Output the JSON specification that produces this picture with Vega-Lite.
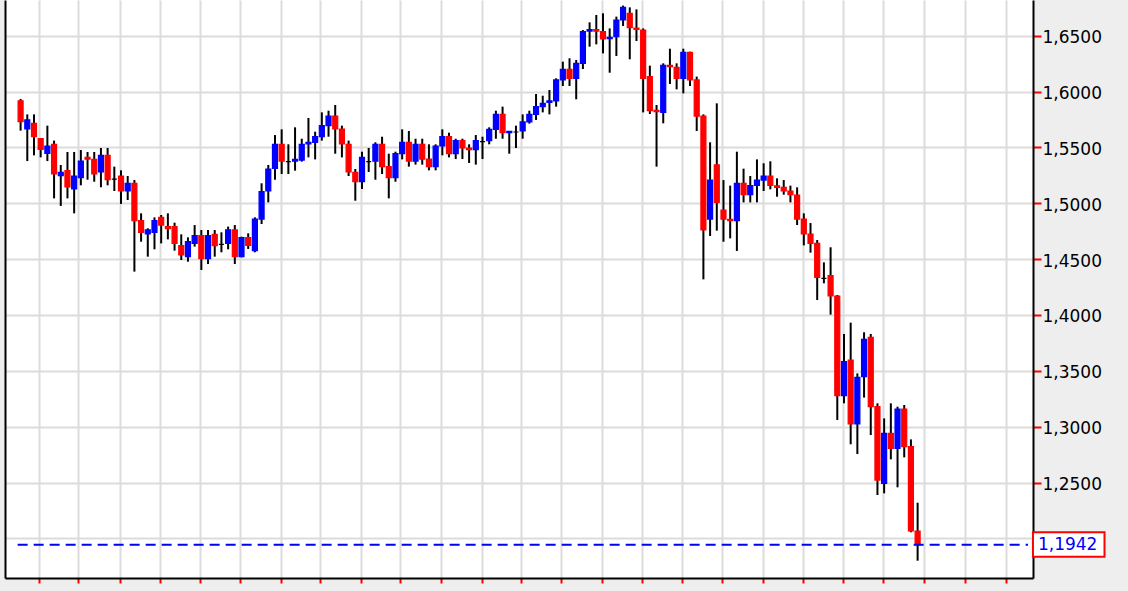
{
  "$schema": "https://vega.github.io/schema/vega-lite/v6.json",
  "width": 1028,
  "height": 578,
  "autosize": {"type": "none"},
  "padding": {"left": 5, "top": 0, "right": 95, "bottom": 13},
  "background": "#eeeeee",
  "config": {
    "view": {"fill": "#ffffff", "stroke": null},
    "locale": {"number": {"decimal": ",", "thousands": ".", "grouping": [3], "currency": ["", " €"]}}
  },
  "datasets": {
    "candles": [
      {"i":0,"open":1.5916,"high":1.5934,"low":1.5650,"close":1.5731},
      {"i":1,"open":1.5665,"high":1.5796,"low":1.5378,"close":1.5746},
      {"i":2,"open":1.5716,"high":1.5796,"low":1.5429,"close":1.5596},
      {"i":3,"open":1.5578,"high":1.5580,"low":1.5411,"close":1.5483},
      {"i":4,"open":1.5447,"high":1.5695,"low":1.5378,"close":1.5513},
      {"i":5,"open":1.5528,"high":1.5561,"low":1.5044,"close":1.5262},
      {"i":6,"open":1.5247,"high":1.5343,"low":1.4976,"close":1.5277},
      {"i":7,"open":1.5292,"high":1.5459,"low":1.5044,"close":1.5146},
      {"i":8,"open":1.5128,"high":1.5459,"low":1.4910,"close":1.5244},
      {"i":9,"open":1.5229,"high":1.5477,"low":1.5161,"close":1.5378},
      {"i":10,"open":1.5411,"high":1.5459,"low":1.5211,"close":1.5396},
      {"i":11,"open":1.5393,"high":1.5459,"low":1.5193,"close":1.5262},
      {"i":12,"open":1.5280,"high":1.5495,"low":1.5143,"close":1.5429},
      {"i":13,"open":1.5429,"high":1.5495,"low":1.5161,"close":1.5211},
      {"i":14,"open":1.5217,"high":1.5328,"low":1.5110,"close":1.5217},
      {"i":15,"open":1.5244,"high":1.5295,"low":1.4994,"close":1.5110},
      {"i":16,"open":1.5110,"high":1.5244,"low":1.5029,"close":1.5179},
      {"i":17,"open":1.5179,"high":1.5208,"low":1.4388,"close":1.4844},
      {"i":18,"open":1.4844,"high":1.4910,"low":1.4656,"close":1.4740},
      {"i":19,"open":1.4725,"high":1.4776,"low":1.4522,"close":1.4761},
      {"i":20,"open":1.4740,"high":1.4874,"low":1.4588,"close":1.4844},
      {"i":21,"open":1.4874,"high":1.4895,"low":1.4641,"close":1.4805},
      {"i":22,"open":1.4791,"high":1.4910,"low":1.4677,"close":1.4773},
      {"i":23,"open":1.4791,"high":1.4826,"low":1.4576,"close":1.4641},
      {"i":24,"open":1.4620,"high":1.4722,"low":1.4492,"close":1.4537},
      {"i":25,"open":1.4522,"high":1.4695,"low":1.4477,"close":1.4656},
      {"i":26,"open":1.4641,"high":1.4805,"low":1.4612,"close":1.4710},
      {"i":27,"open":1.4710,"high":1.4761,"low":1.4403,"close":1.4504},
      {"i":28,"open":1.4504,"high":1.4761,"low":1.4456,"close":1.4710},
      {"i":29,"open":1.4722,"high":1.4761,"low":1.4522,"close":1.4620},
      {"i":30,"open":1.4632,"high":1.4740,"low":1.4561,"close":1.4632},
      {"i":31,"open":1.4641,"high":1.4791,"low":1.4588,"close":1.4761},
      {"i":32,"open":1.4761,"high":1.4805,"low":1.4456,"close":1.4522},
      {"i":33,"open":1.4522,"high":1.4701,"low":1.4516,"close":1.4692},
      {"i":34,"open":1.4692,"high":1.4731,"low":1.4591,"close":1.4623},
      {"i":35,"open":1.4576,"high":1.4874,"low":1.4561,"close":1.4859},
      {"i":36,"open":1.4859,"high":1.5179,"low":1.4814,"close":1.5104},
      {"i":37,"open":1.5110,"high":1.5343,"low":1.5008,"close":1.5307},
      {"i":38,"open":1.5313,"high":1.5611,"low":1.5211,"close":1.5528},
      {"i":39,"open":1.5528,"high":1.5662,"low":1.5262,"close":1.5378},
      {"i":40,"open":1.5373,"high":1.5528,"low":1.5262,"close":1.5373},
      {"i":41,"open":1.5378,"high":1.5680,"low":1.5292,"close":1.5393},
      {"i":42,"open":1.5387,"high":1.5578,"low":1.5373,"close":1.5528},
      {"i":43,"open":1.5531,"high":1.5764,"low":1.5411,"close":1.5546},
      {"i":44,"open":1.5546,"high":1.5641,"low":1.5393,"close":1.5596},
      {"i":45,"open":1.5596,"high":1.5814,"low":1.5561,"close":1.5695},
      {"i":46,"open":1.5695,"high":1.5829,"low":1.5596,"close":1.5781},
      {"i":47,"open":1.5781,"high":1.5880,"low":1.5444,"close":1.5665},
      {"i":48,"open":1.5665,"high":1.5695,"low":1.5411,"close":1.5531},
      {"i":49,"open":1.5528,"high":1.5561,"low":1.5244,"close":1.5280},
      {"i":50,"open":1.5277,"high":1.5307,"low":1.5023,"close":1.5193},
      {"i":51,"open":1.5193,"high":1.5462,"low":1.5128,"close":1.5411},
      {"i":52,"open":1.5373,"high":1.5495,"low":1.5280,"close":1.5373},
      {"i":53,"open":1.5378,"high":1.5546,"low":1.5211,"close":1.5528},
      {"i":54,"open":1.5528,"high":1.5596,"low":1.5262,"close":1.5328},
      {"i":55,"open":1.5328,"high":1.5444,"low":1.5044,"close":1.5229},
      {"i":56,"open":1.5229,"high":1.5462,"low":1.5193,"close":1.5444},
      {"i":57,"open":1.5444,"high":1.5662,"low":1.5393,"close":1.5546},
      {"i":58,"open":1.5546,"high":1.5647,"low":1.5328,"close":1.5378},
      {"i":59,"open":1.5378,"high":1.5578,"low":1.5346,"close":1.5528},
      {"i":60,"open":1.5528,"high":1.5578,"low":1.5346,"close":1.5396},
      {"i":61,"open":1.5396,"high":1.5528,"low":1.5295,"close":1.5328},
      {"i":62,"open":1.5328,"high":1.5528,"low":1.5295,"close":1.5513},
      {"i":63,"open":1.5513,"high":1.5662,"low":1.5429,"close":1.5596},
      {"i":64,"open":1.5596,"high":1.5632,"low":1.5411,"close":1.5444},
      {"i":65,"open":1.5444,"high":1.5578,"low":1.5396,"close":1.5561},
      {"i":66,"open":1.5561,"high":1.5578,"low":1.5396,"close":1.5495},
      {"i":67,"open":1.5495,"high":1.5528,"low":1.5361,"close":1.5480},
      {"i":68,"open":1.5480,"high":1.5611,"low":1.5346,"close":1.5561},
      {"i":69,"open":1.5552,"high":1.5596,"low":1.5396,"close":1.5552},
      {"i":70,"open":1.5561,"high":1.5680,"low":1.5528,"close":1.5662},
      {"i":71,"open":1.5662,"high":1.5829,"low":1.5578,"close":1.5796},
      {"i":72,"open":1.5796,"high":1.5865,"low":1.5578,"close":1.5632},
      {"i":73,"open":1.5632,"high":1.5647,"low":1.5444,"close":1.5644},
      {"i":74,"open":1.5638,"high":1.5695,"low":1.5495,"close":1.5638},
      {"i":75,"open":1.5647,"high":1.5796,"low":1.5578,"close":1.5728},
      {"i":76,"open":1.5728,"high":1.5829,"low":1.5713,"close":1.5796},
      {"i":77,"open":1.5796,"high":1.5978,"low":1.5746,"close":1.5865},
      {"i":78,"open":1.5865,"high":1.5963,"low":1.5814,"close":1.5895},
      {"i":79,"open":1.5904,"high":1.6014,"low":1.5796,"close":1.5916},
      {"i":80,"open":1.5916,"high":1.6119,"low":1.5865,"close":1.6104},
      {"i":81,"open":1.6104,"high":1.6268,"low":1.6050,"close":1.6199},
      {"i":82,"open":1.6199,"high":1.6298,"low":1.6050,"close":1.6119},
      {"i":83,"open":1.6119,"high":1.6283,"low":1.5931,"close":1.6253},
      {"i":84,"open":1.6253,"high":1.6551,"low":1.6202,"close":1.6537},
      {"i":85,"open":1.6542,"high":1.6620,"low":1.6402,"close":1.6554},
      {"i":86,"open":1.6554,"high":1.6686,"low":1.6423,"close":1.6542},
      {"i":87,"open":1.6537,"high":1.6701,"low":1.6342,"close":1.6471},
      {"i":88,"open":1.6474,"high":1.6566,"low":1.6169,"close":1.6486},
      {"i":89,"open":1.6492,"high":1.6671,"low":1.6319,"close":1.6641},
      {"i":90,"open":1.6641,"high":1.6770,"low":1.6587,"close":1.6754},
      {"i":91,"open":1.6701,"high":1.6754,"low":1.6289,"close":1.6572},
      {"i":92,"open":1.6569,"high":1.6736,"low":1.6453,"close":1.6557},
      {"i":93,"open":1.6551,"high":1.6566,"low":1.5814,"close":1.6119},
      {"i":94,"open":1.6134,"high":1.6232,"low":1.5799,"close":1.5829},
      {"i":95,"open":1.5832,"high":1.5880,"low":1.5328,"close":1.5820},
      {"i":96,"open":1.5814,"high":1.6253,"low":1.5716,"close":1.6235},
      {"i":97,"open":1.6235,"high":1.6384,"low":1.6068,"close":1.6223},
      {"i":98,"open":1.6217,"high":1.6253,"low":1.6020,"close":1.6119},
      {"i":99,"open":1.6119,"high":1.6384,"low":1.5984,"close":1.6351},
      {"i":100,"open":1.6351,"high":1.6357,"low":1.6050,"close":1.6104},
      {"i":101,"open":1.6104,"high":1.6134,"low":1.5647,"close":1.5781},
      {"i":102,"open":1.5781,"high":1.5796,"low":1.4319,"close":1.4761},
      {"i":103,"open":1.4859,"high":1.5546,"low":1.4707,"close":1.5208},
      {"i":104,"open":1.5343,"high":1.5895,"low":1.4755,"close":1.5008},
      {"i":105,"open":1.4940,"high":1.5208,"low":1.4656,"close":1.4859},
      {"i":106,"open":1.4856,"high":1.5158,"low":1.4686,"close":1.4844},
      {"i":107,"open":1.4844,"high":1.5462,"low":1.4573,"close":1.5179},
      {"i":108,"open":1.5179,"high":1.5310,"low":1.5008,"close":1.5077},
      {"i":109,"open":1.5077,"high":1.5244,"low":1.5008,"close":1.5158},
      {"i":110,"open":1.5161,"high":1.5393,"low":1.5008,"close":1.5208},
      {"i":111,"open":1.5208,"high":1.5358,"low":1.5110,"close":1.5244},
      {"i":112,"open":1.5244,"high":1.5376,"low":1.5125,"close":1.5161},
      {"i":113,"open":1.5155,"high":1.5223,"low":1.5059,"close":1.5143},
      {"i":114,"open":1.5143,"high":1.5208,"low":1.5077,"close":1.5110},
      {"i":115,"open":1.5110,"high":1.5158,"low":1.5008,"close":1.5077},
      {"i":116,"open":1.5074,"high":1.5143,"low":1.4805,"close":1.4859},
      {"i":117,"open":1.4859,"high":1.4910,"low":1.4623,"close":1.4725},
      {"i":118,"open":1.4725,"high":1.4823,"low":1.4558,"close":1.4641},
      {"i":119,"open":1.4641,"high":1.4671,"low":1.4134,"close":1.4337},
      {"i":120,"open":1.4328,"high":1.4471,"low":1.4283,"close":1.4328},
      {"i":121,"open":1.4352,"high":1.4606,"low":1.4003,"close":1.4170},
      {"i":122,"open":1.4170,"high":1.4179,"low":1.3060,"close":1.3277},
      {"i":123,"open":1.3277,"high":1.3830,"low":1.3209,"close":1.3582},
      {"i":124,"open":1.3597,"high":1.3931,"low":1.2842,"close":1.3024},
      {"i":125,"open":1.3024,"high":1.3477,"low":1.2755,"close":1.3442},
      {"i":126,"open":1.3448,"high":1.3845,"low":1.3260,"close":1.3782},
      {"i":127,"open":1.3800,"high":1.3830,"low":1.2925,"close":1.3179},
      {"i":128,"open":1.3179,"high":1.3209,"low":1.2388,"close":1.2522},
      {"i":129,"open":1.2493,"high":1.3074,"low":1.2403,"close":1.2940},
      {"i":130,"open":1.2940,"high":1.3209,"low":1.2707,"close":1.2806},
      {"i":131,"open":1.2806,"high":1.3179,"low":1.2457,"close":1.3158},
      {"i":132,"open":1.3158,"high":1.3194,"low":1.2725,"close":1.2821},
      {"i":133,"open":1.2821,"high":1.2886,"low":1.2054,"close":1.2066},
      {"i":134,"open":1.2066,"high":1.2319,"low":1.1800,"close":1.1942}
    ],
    "last": [{"price": 1.1942}]
  },
  "layer": [
    {
      "data": {"name": "candles"},
      "mark": {"type": "rule", "color": "#000000", "strokeWidth": 2},
      "encoding": {
        "x": {
          "field": "i", "type": "quantitative",
          "scale": {"domain": [-1.583, 150.49], "nice": false, "zero": false},
          "axis": {
            "orient": "bottom", "title": null, "labels": false,
            "values": [2.75, 8.62, 14.79, 20.86, 26.78, 32.84, 38.85, 44.76, 50.83, 56.75, 62.77, 68.94, 74.75, 80.77, 86.92, 92.84, 98.86, 104.78, 110.84, 116.91, 122.78, 128.85, 135.0, 141.07, 147.19],
            "grid": true, "gridColor": "#dcdcdc", "gridWidth": 2,
            "domainColor": "#000000", "domainWidth": 2,
            "tickColor": "#ff0000", "tickSize": 5, "tickWidth": 2
          }
        },
        "y": {
          "field": "low", "type": "quantitative",
          "scale": {"domain": [1.1645, 1.682], "nice": false, "zero": false},
          "axis": {
            "orient": "right", "title": null, "format": ".4f",
            "values": [1.2, 1.25, 1.3, 1.35, 1.4, 1.45, 1.5, 1.55, 1.6, 1.65],
            "grid": true, "gridColor": "#dcdcdc", "gridWidth": 2,
            "domainColor": "#000000", "domainWidth": 2,
            "tickColor": "#ff0000", "tickSize": 8, "tickWidth": 2,
            "labelFont": "DejaVu Sans", "labelFontSize": 17, "labelColor": "#000000",
            "labelPadding": 1, "labelOffset": 2, "labelOverlap": false, "labelFlush": false
          }
        },
        "y2": {"field": "high"}
      }
    },
    {
      "data": {"name": "candles"},
      "mark": {"type": "bar", "size": 5, "strokeWidth": 1.2},
      "encoding": {
        "x": {"field": "i", "type": "quantitative", "axis": null},
        "y": {
          "field": "open", "type": "quantitative",
          "axis": {"orient": "left", "title": null, "labels": false, "ticks": false, "grid": false, "domainColor": "#000000", "domainWidth": 2}
        },
        "y2": {"field": "close"},
        "fill": {
          "condition": [
            {"test": "datum.close > datum.open", "value": "#0000ff"},
            {"test": "datum.close < datum.open", "value": "#ff0000"}
          ],
          "value": "#000000"
        },
        "stroke": {
          "condition": [
            {"test": "datum.close > datum.open", "value": "#0000ff"},
            {"test": "datum.close < datum.open", "value": "#ff0000"}
          ],
          "value": "#000000"
        }
      }
    },
    {
      "data": {"name": "last"},
      "mark": {"type": "rule", "color": "#0000ff", "strokeWidth": 2, "strokeDash": [10, 6]},
      "encoding": {
        "x": {"datum": -0.44, "type": "quantitative", "axis": null},
        "x2": {"datum": 150.49},
        "y": {"field": "price", "type": "quantitative", "axis": null}
      }
    },
    {
      "data": {"name": "last"},
      "mark": {"type": "rect", "fill": "#ffffff", "stroke": "#ff0000", "strokeWidth": 2},
      "encoding": {
        "x": {"datum": 151.23, "type": "quantitative", "axis": null},
        "x2": {"datum": 161.92},
        "y": {"datum": 1.2054, "type": "quantitative", "axis": null},
        "y2": {"datum": 1.1836}
      }
    },
    {
      "data": {"name": "last"},
      "mark": {"type": "text", "align": "left", "baseline": "middle", "font": "DejaVu Sans", "fontSize": 17, "color": "#0000ff"},
      "encoding": {
        "x": {"datum": 151.97, "type": "quantitative", "axis": null},
        "y": {"field": "price", "type": "quantitative", "axis": null},
        "text": {"field": "price", "type": "quantitative", "format": ".4f"}
      }
    }
  ],
  "resolve": {"axis": {"x": "independent", "y": "independent"}}
}
